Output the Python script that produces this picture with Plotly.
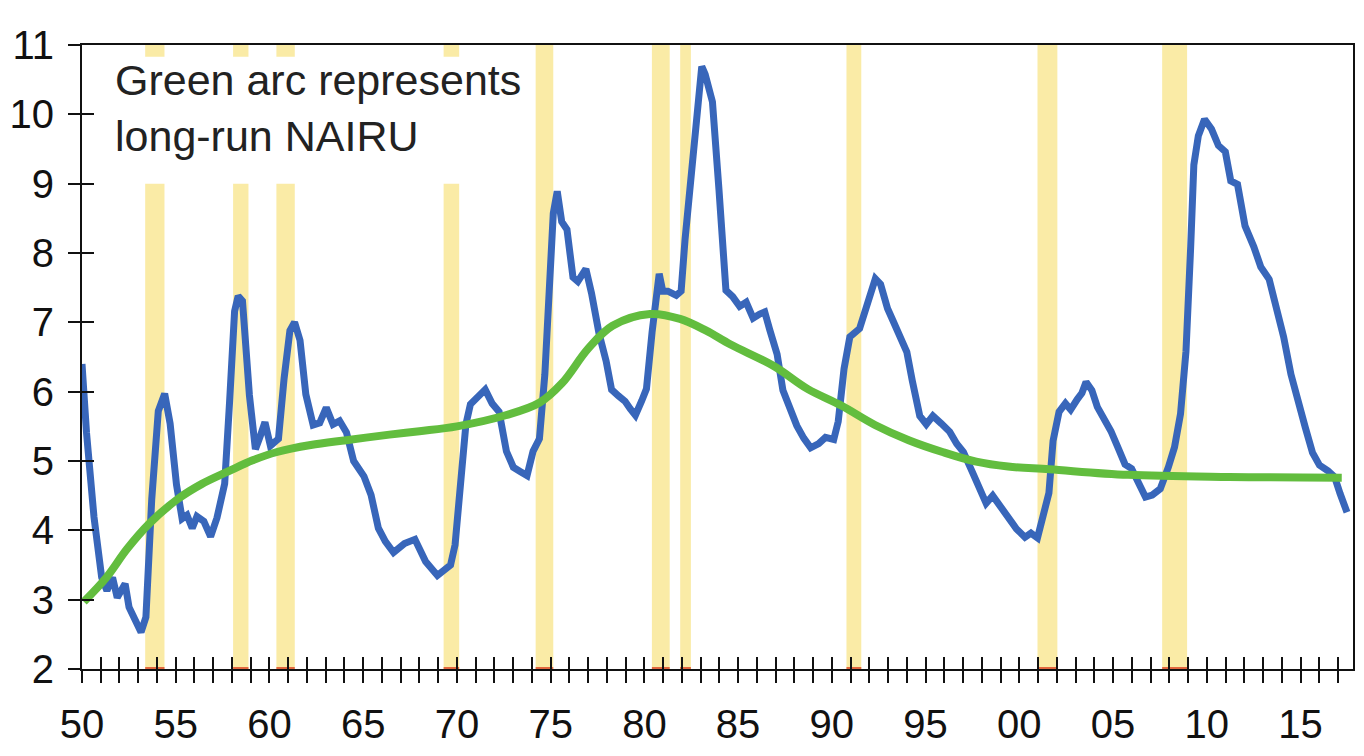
import plotly.graph_objects as go

# ---------------- data ----------------
# Unemployment rate (blue line)
blue_year = [1950.00, 1950.24, 1950.64, 1951.05, 1951.33, 1951.63, 1951.88, 1952.30, 1952.51, 1953.15,
             1953.41, 1953.72, 1954.07, 1954.41, 1954.70, 1955.04, 1955.34, 1955.60, 1955.88, 1956.13,
             1956.50, 1956.86, 1957.20, 1957.61, 1957.87, 1958.14, 1958.33, 1958.56, 1958.93, 1959.25,
             1959.51, 1959.76, 1960.05, 1960.48, 1960.78, 1961.09, 1961.34, 1961.63, 1961.94, 1962.33,
             1962.68, 1963.03, 1963.39, 1963.74, 1964.11, 1964.49, 1965.04, 1965.42, 1965.81, 1966.18,
             1966.62, 1967.20, 1967.76, 1968.33, 1968.96, 1969.66, 1969.90, 1970.19, 1970.48, 1970.72,
             1971.08, 1971.51, 1971.88, 1972.25, 1972.64, 1973.01, 1973.37, 1973.74, 1974.06, 1974.40,
             1974.69, 1974.94, 1975.14, 1975.35, 1975.59, 1975.87, 1976.19, 1976.45, 1976.88, 1977.18,
             1977.58, 1977.96, 1978.25, 1978.61, 1978.97, 1979.25, 1979.52, 1979.86, 1980.11, 1980.41,
             1980.64, 1980.79, 1980.98, 1981.25, 1981.70, 1981.96, 1982.17, 1982.47, 1982.75, 1983.06,
             1983.24, 1983.63, 1983.98, 1984.35, 1984.71, 1985.08, 1985.43, 1985.80, 1986.15, 1986.42,
             1986.69, 1987.08, 1987.39, 1987.76, 1988.13, 1988.50, 1988.87, 1989.30, 1989.66, 1990.10,
             1990.34, 1990.65, 1990.96, 1991.48, 1991.98, 1992.32, 1992.60, 1992.97, 1993.25, 1993.62,
             1994.00, 1994.29, 1994.69, 1995.04, 1995.39, 1995.84, 1996.29, 1996.66, 1997.02, 1997.48,
             1997.86, 1998.23, 1998.58, 1999.03, 1999.48, 1999.85, 2000.30, 2000.62, 2000.97, 2001.25,
             2001.58, 2001.80, 2002.12, 2002.46, 2002.74, 2003.09, 2003.34, 2003.56, 2003.87, 2004.16,
             2004.53, 2004.89, 2005.27, 2005.64, 2005.99, 2006.37, 2006.73, 2007.09, 2007.52, 2007.95,
             2008.28, 2008.60, 2008.89, 2009.14, 2009.31, 2009.55, 2009.88, 2010.25, 2010.62, 2010.99,
             2011.28, 2011.64, 2012.04, 2012.51, 2012.88, 2013.33, 2013.72, 2014.10, 2014.49, 2014.88,
             2015.26, 2015.64, 2016.01, 2016.46, 2016.82, 2017.11, 2017.48]
blue_val = [6.40, 5.41, 4.19, 3.32, 3.13, 3.32, 3.03, 3.23, 2.89, 2.53,
            2.75, 4.45, 5.72, 5.97, 5.54, 4.66, 4.17, 4.22, 4.03, 4.20,
            4.13, 3.91, 4.18, 4.67, 5.84, 7.16, 7.38, 7.31, 5.95, 5.17,
            5.36, 5.56, 5.22, 5.32, 6.19, 6.88, 7.00, 6.74, 5.96, 5.52,
            5.55, 5.77, 5.53, 5.58, 5.41, 5.00, 4.78, 4.51, 4.03, 3.84,
            3.68, 3.81, 3.87, 3.55, 3.35, 3.50, 3.79, 4.78, 5.53, 5.82,
            5.91, 6.03, 5.83, 5.71, 5.14, 4.91, 4.85, 4.79, 5.14, 5.32,
            6.25, 7.70, 8.57, 8.89, 8.45, 8.34, 7.65, 7.59, 7.77, 7.42,
            6.84, 6.44, 6.03, 5.94, 5.86, 5.75, 5.66, 5.87, 6.04, 6.86,
            7.44, 7.70, 7.45, 7.45, 7.39, 7.45, 8.20, 9.07, 9.94, 10.69,
            10.58, 10.18, 8.91, 7.46, 7.37, 7.23, 7.29, 7.06, 7.12, 7.15,
            6.89, 6.54, 6.02, 5.73, 5.51, 5.33, 5.19, 5.25, 5.34, 5.31,
            5.57, 6.33, 6.79, 6.91, 7.37, 7.63, 7.55, 7.20, 7.03, 6.80,
            6.57, 6.16, 5.65, 5.53, 5.65, 5.54, 5.42, 5.25, 5.13, 4.85,
            4.62, 4.39, 4.50, 4.33, 4.19, 4.02, 3.90, 3.96, 3.89, 4.22,
            4.54, 5.29, 5.71, 5.83, 5.74, 5.89, 5.98, 6.14, 6.02, 5.78,
            5.60, 5.43, 5.19, 4.95, 4.89, 4.65, 4.48, 4.51, 4.60, 4.91,
            5.20, 5.68, 6.58, 8.08, 9.27, 9.69, 9.93, 9.79, 9.55, 9.46,
            9.04, 8.99, 8.39, 8.09, 7.80, 7.62, 7.20, 6.79, 6.25, 5.83,
            5.48, 5.12, 4.94, 4.86, 4.77, 4.53, 4.26]

# Long-run NAIRU (green arc)
nairu_year = [1950.1, 1951.3, 1952.4, 1953.6, 1955.1, 1956.4, 1957.8, 1959.1, 1960.4, 1962.2,
              1964.1, 1966.4, 1968.0, 1970.0, 1972.6, 1974.4, 1975.6, 1977.0, 1978.3, 1980.3,
              1981.9, 1983.3, 1984.6, 1986.9, 1988.7, 1990.5, 1992.3, 1994.1, 1995.9, 1997.7,
              1999.4, 2001.6, 2005.8, 2011.2, 2017.2]
nairu_val = [2.97, 3.32, 3.73, 4.10, 4.45, 4.67, 4.85, 5.01, 5.13, 5.23,
             5.30, 5.38, 5.43, 5.50, 5.66, 5.84, 6.12, 6.62, 6.95, 7.12,
             7.05, 6.88, 6.68, 6.37, 6.04, 5.80, 5.52, 5.30, 5.13, 4.99,
             4.92, 4.88, 4.80, 4.77, 4.76]

# Recession bars (start, end)
rec_start = [1953.37, 1958.06, 1960.37, 1969.29, 1974.20, 1980.40, 1981.91, 1990.78, 2000.97, 2007.62]
rec_end = [1954.40, 1958.88, 1961.35, 1970.12, 1975.14, 1981.35, 1982.48, 1991.57, 2002.03, 2008.95]

# Axis ticks / labels
x_tick_years = list(range(1950, 2018))
x_label_years = [1950, 1955, 1960, 1965, 1970, 1975, 1980, 1985, 1990, 1995, 2000, 2005, 2010, 2015]
x_label_text = ["50", "55", "60", "65", "70", "75", "80", "85", "90", "95", "00", "05", "10", "15"]
y_ticks = [2, 3, 4, 5, 6, 7, 8, 9, 10, 11]

note_text = "Green arc represents<br>long-run NAIRU"

X_RANGE = [1950, 2017.8]
Y_RANGE = [2, 11]

# ---------------- figure ----------------
label_map = dict(zip(x_label_years, x_label_text))
x_tick_text = [label_map.get(yr, "") for yr in x_tick_years]

fig = go.Figure()
fig.add_trace(go.Scatter(x=blue_year, y=blue_val, mode="lines",
                         line=dict(color="#3866BA", width=7), hoverinfo="skip"))
fig.add_trace(go.Scatter(x=nairu_year, y=nairu_val, mode="lines",
                         line=dict(color="#62BD3E", width=8, shape="spline", smoothing=1.0),
                         hoverinfo="skip"))
# invisible trace that activates the overlay axes used for the inner half of the crossing ticks
fig.add_trace(go.Scatter(x=[X_RANGE[0]], y=[Y_RANGE[0]], xaxis="x2", yaxis="y2", mode="markers",
                         marker=dict(opacity=0), hoverinfo="skip"))

shapes = []
for s, e in zip(rec_start, rec_end):
    shapes.append(dict(type="rect", xref="x", yref="y", x0=s, x1=e, y0=Y_RANGE[0], y1=Y_RANGE[1],
                       fillcolor="#FAEBA6", line=dict(width=0), layer="below"))
    shapes.append(dict(type="line", xref="x", yref="y", x0=s, x1=e, y0=Y_RANGE[0], y1=Y_RANGE[0],
                       line=dict(color="#E2673F", width=4), layer="below"))
# white box behind the note (covers the upper part of the early bars)
shapes.append(dict(type="rect", xref="x", yref="y", x0=1950.2, x1=1973.6, y0=9.0, y1=10.83,
                   fillcolor="white", line=dict(width=0), layer="below"))

axis_common = dict(showgrid=False, zeroline=False, automargin=False)
fig.update_layout(
    width=1348, height=740,
    template="none",
    margin=dict(l=74, r=3, t=37, b=79, pad=0, autoexpand=False),
    paper_bgcolor="white", plot_bgcolor="white",
    showlegend=False,
    font=dict(family="Liberation Sans, Arial, sans-serif", size=40, color="#111111"),
    shapes=shapes,
    xaxis=dict(range=X_RANGE, tickmode="array", tickvals=x_tick_years, ticktext=x_tick_text,
               ticks="outside", ticklen=12, tickwidth=1.6, tickcolor="#111",
               showline=True, linecolor="#111", linewidth=2, mirror=True,
               ticklabelstandoff=7, tickfont=dict(size=40, color="#111111"), **axis_common),
    yaxis=dict(range=Y_RANGE, tickmode="array", tickvals=y_ticks, ticktext=[str(v) for v in y_ticks],
               ticks="outside", ticklen=12, tickwidth=1.6, tickcolor="#111",
               showline=True, linecolor="#111", linewidth=2, mirror=True,
               ticklabelstandoff=6, tickfont=dict(size=40, color="#111111"), **axis_common),
    xaxis2=dict(overlaying="x", anchor="y2", side="bottom", range=X_RANGE, tickmode="array",
                tickvals=x_tick_years, ticks="inside", ticklen=12, tickwidth=1.6, tickcolor="#111",
                showticklabels=False, showline=False, **axis_common),
    yaxis2=dict(overlaying="y", anchor="x2", side="left", range=Y_RANGE, tickmode="array",
                tickvals=y_ticks, ticks="inside", ticklen=12, tickwidth=1.6, tickcolor="#111",
                showticklabels=False, showline=False, **axis_common),
)

fig.add_annotation(x=1951.65, y=10.87, xref="x", yref="y", xanchor="left", yanchor="top",
                   text=note_text, showarrow=False, align="left",
                   font=dict(family="Liberation Sans, Arial, sans-serif", size=43, color="#222222"))

fig.write_html("out.html")
